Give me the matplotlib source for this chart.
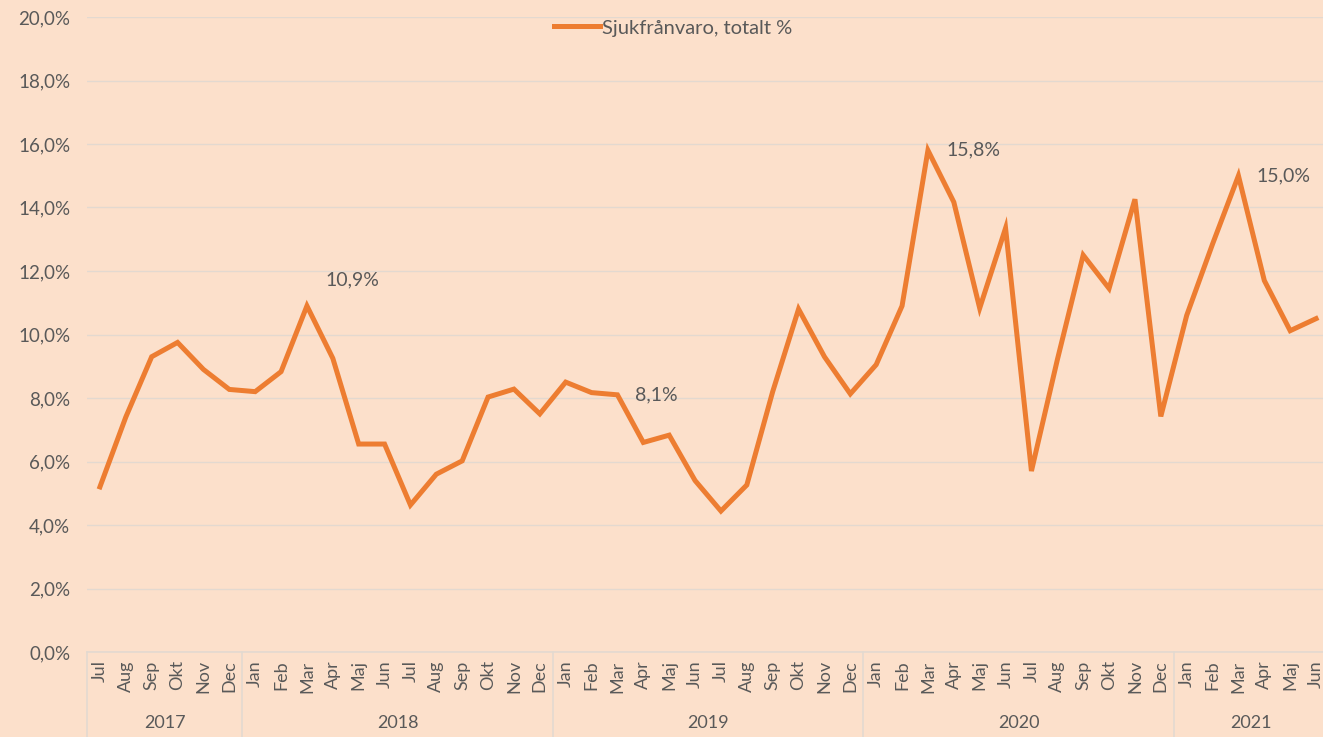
import numpy as np
import matplotlib
matplotlib.use("Agg")
import matplotlib.pyplot as plt
import matplotlib.transforms as mtransforms

months = ['Jul', 'Aug', 'Sep', 'Okt', 'Nov', 'Dec',
          'Jan', 'Feb', 'Mar', 'Apr', 'Maj', 'Jun', 'Jul', 'Aug', 'Sep', 'Okt', 'Nov', 'Dec',
          'Jan', 'Feb', 'Mar', 'Apr', 'Maj', 'Jun', 'Jul', 'Aug', 'Sep', 'Okt', 'Nov', 'Dec',
          'Jan', 'Feb', 'Mar', 'Apr', 'Maj', 'Jun', 'Jul', 'Aug', 'Sep', 'Okt', 'Nov', 'Dec',
          'Jan', 'Feb', 'Mar', 'Apr', 'Maj', 'Jun']
years = ['2017', '2018', '2019', '2020', '2021']
year_counts = [6, 12, 12, 12, 6]

sick_leave = [5.2, 7.4, 9.3, 9.75, 8.9, 8.27,
              8.2, 8.83, 10.9, 9.25, 6.55, 6.55, 4.63, 5.6, 6.02, 8.03, 8.28, 7.5,
              8.5, 8.17, 8.1, 6.6, 6.83, 5.4, 4.44, 5.26, 8.2, 10.8, 9.3, 8.13,
              9.05, 10.9, 15.8, 14.17, 10.83, 13.35, 5.7, 9.2, 12.5, 11.45, 14.26, 7.42,
              10.6, 12.85, 15.0, 11.7, 10.12, 10.5]
labelled = {8: '10,9%', 20: '8,1%', 32: '15,8%', 44: '15,0%'}

bg = '#FCE0CB'
orange = '#ED7D31'
text_col = '#595959'
grid_col = '#E3D9D0'

plt.rcParams['font.family'] = ['Lato', 'DejaVu Sans']

fig = plt.figure(figsize=(13.23, 7.37), dpi=100)
fig.patch.set_facecolor(bg)
ax = fig.add_axes([87 / 1323, 1 - 652 / 737, 1242 / 1323, 635 / 737])
ax.set_facecolor(bg)

x = np.arange(len(months))
vals = np.array(sick_leave) / 100
ax.plot(x, vals, color=orange, lw=3.6, solid_joinstyle='miter',
        label='Sjukfrånvaro, totalt %', zorder=3)

for i, txt in labelled.items():
    dy = 19 if i == 8 else 0
    ax.annotate(txt, (x[i], vals[i]), xytext=(13, dy), textcoords='offset points',
                ha='left', va='center', fontsize=14, color=text_col)

ax.set_xlim(-0.5, len(months) - 0.5)
ax.set_ylim(0, 0.20)
ax.set_yticks(np.arange(0, 0.201, 0.02))
ax.set_yticklabels([f'{v:.1f}%'.replace('.', ',') for v in np.arange(0, 20.01, 2)])
ax.grid(axis='y', color=grid_col, lw=1.0)
ax.set_axisbelow(True)
for s in ax.spines.values():
    s.set_visible(False)
ax.tick_params(axis='y', length=0, pad=12, labelsize=13.5, labelcolor=text_col)
ax.set_xticks(x)
ax.set_xticklabels(months, rotation=90, fontsize=13, color=text_col)
ax.tick_params(axis='x', length=0, pad=6)

trans = mtransforms.blended_transform_factory(ax.transData, ax.transAxes)
ax.plot([-0.5, len(months) - 0.5], [0, 0], transform=trans, color=grid_col,
        lw=1.2, clip_on=False)
start = 0
bounds = [-0.5]
for yr, n in zip(years, year_counts):
    mid = start + (n - 1) / 2
    ax.text(mid, -0.112, yr, transform=trans, ha='center', va='center',
            fontsize=13, color=text_col)
    start += n
    bounds.append(start - 0.5)
for b in bounds:
    ax.plot([b, b], [0, -0.2], transform=trans, color=grid_col, lw=1.2, clip_on=False)

leg = ax.legend(loc='center', bbox_to_anchor=(673 / 1323, 1 - 28 / 737),
                bbox_transform=fig.transFigure, frameon=False, fontsize=14.5,
                handlelength=2.3, handletextpad=0.1)
for t in leg.get_texts():
    t.set_color(text_col)

fig.savefig('out.png', dpi=100, facecolor=bg)
